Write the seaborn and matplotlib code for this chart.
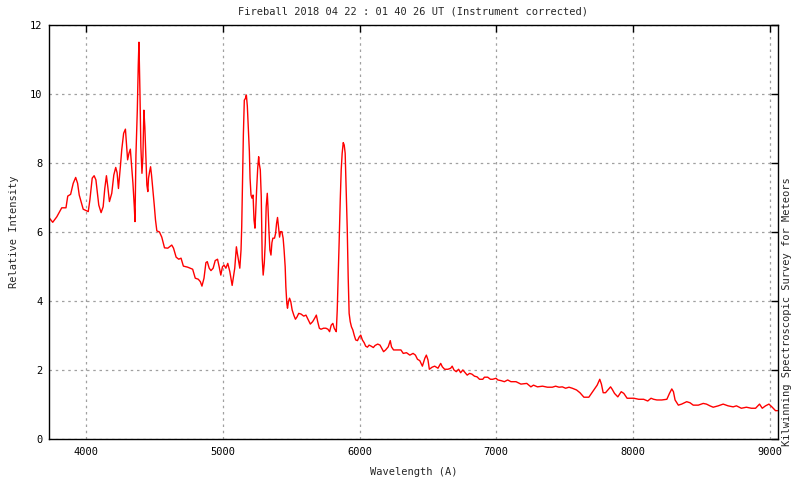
import matplotlib
matplotlib.use("Agg")
import matplotlib.pyplot as plt
import seaborn as sns
import pandas as pd

wavelength = [
    3731, 3755, 3785, 3821, 3852, 3865, 3886, 3905, 3923, 3937, 3949, 3978,
    4015, 4027, 4044, 4058, 4071, 4092, 4109, 4124, 4136, 4148, 4158, 4170,
    4187, 4202, 4216, 4226, 4236, 4250, 4260, 4274, 4287, 4294, 4303, 4313,
    4323, 4333, 4342, 4352, 4357, 4364, 4374, 4381, 4386, 4393, 4400, 4408,
    4415, 4422, 4429, 4437, 4444, 4451, 4456, 4464, 4471, 4478, 4488, 4498,
    4507, 4517, 4536, 4553, 4573, 4597, 4626, 4639, 4658, 4677, 4694, 4711,
    4742, 4779, 4798, 4820, 4835, 4847, 4862, 4876, 4886, 4900, 4913, 4929,
    4944, 4961, 4973, 4985, 4997, 5009, 5022, 5036, 5051, 5068, 5087, 5099,
    5106, 5116, 5124, 5133, 5138, 5143, 5150, 5157, 5165, 5172, 5179, 5186,
    5194, 5199, 5206, 5213, 5221, 5228, 5235, 5240, 5247, 5255, 5262, 5266,
    5274, 5281, 5288, 5295, 5303, 5310, 5317, 5325, 5330, 5337, 5344, 5352,
    5359, 5366, 5378, 5386, 5393, 5400, 5408, 5415, 5422, 5432, 5441, 5448,
    5456, 5461, 5468, 5473, 5480, 5488, 5497, 5507, 5519, 5531, 5543, 5555,
    5572, 5592, 5608, 5623, 5640, 5657, 5672, 5684, 5694, 5706, 5718, 5737,
    5754, 5769, 5781, 5793, 5805, 5815, 5822, 5830, 5837, 5844, 5851, 5859,
    5866, 5873, 5881, 5888, 5895, 5902, 5910, 5917, 5924, 5932, 5941, 5951,
    5961, 5972, 5985, 5997, 6009, 6021, 6034, 6045, 6058, 6070, 6085, 6101,
    6114, 6133, 6150, 6162, 6176, 6191, 6210, 6225, 6234, 6249, 6271, 6290,
    6303, 6320, 6344, 6368, 6392, 6409, 6424, 6441, 6460, 6478, 6489, 6501,
    6511, 6531, 6550, 6574, 6594, 6606, 6623, 6647, 6667, 6678, 6691, 6708,
    6725, 6740, 6756, 6773, 6788, 6805, 6822, 6841, 6860, 6878, 6902, 6914,
    6938, 6958, 6975, 6999, 7012, 7036, 7060, 7084, 7108, 7145, 7181, 7224,
    7254, 7273, 7302, 7339, 7375, 7411, 7435, 7460, 7484, 7508, 7533, 7557,
    7588, 7613, 7642, 7678, 7715, 7739, 7758, 7770, 7783, 7800, 7817, 7837,
    7849, 7866, 7890, 7915, 7934, 7958, 7983, 8007, 8043, 8079, 8109, 8133,
    8152, 8176, 8212, 8249, 8268, 8285, 8297, 8309, 8333, 8357, 8394, 8418,
    8442, 8479, 8515, 8539, 8564, 8588, 8625, 8661, 8697, 8734, 8758, 8794,
    8831, 8867, 8898, 8927, 8947, 8971, 8996, 9020, 9044, 9058,
]

intensity = [
    6.41, 6.29, 6.45, 6.71, 6.71, 7.05, 7.10, 7.42, 7.59, 7.42, 7.08, 6.67,
    6.60, 6.94, 7.57, 7.64, 7.52, 6.79, 6.57, 6.74, 7.27, 7.64, 7.32, 6.89,
    7.13, 7.66, 7.88, 7.73, 7.27, 7.90, 8.39, 8.87, 8.99, 8.58, 8.10, 8.29,
    8.41, 7.90, 7.42, 6.74, 6.31, 8.24, 9.54, 10.85, 11.51, 10.12, 8.48, 7.71,
    8.19, 9.54, 9.06, 8.19, 7.37, 7.18, 7.57, 7.76, 7.90, 7.66, 7.23, 6.79,
    6.36, 6.04, 6.01, 5.86, 5.55, 5.54, 5.63, 5.54, 5.28, 5.22, 5.25, 5.02,
    4.99, 4.93, 4.67, 4.64, 4.57, 4.44, 4.67, 5.12, 5.15, 4.96, 4.89, 4.96,
    5.18, 5.22, 5.00, 4.76, 5.00, 5.05, 4.96, 5.10, 4.86, 4.46, 4.96, 5.58,
    5.39, 5.15, 4.96, 5.49, 6.16, 7.27, 8.82, 9.83, 9.88, 9.98, 9.66, 9.01,
    8.34, 7.57, 7.08, 6.99, 7.08, 6.36, 6.12, 6.55, 7.23, 7.86, 8.19, 8.00,
    7.81, 7.03, 5.25, 4.76, 5.10, 5.68, 6.74, 7.13, 6.74, 6.07, 5.49, 5.34,
    5.70, 5.83, 5.83, 5.97, 6.26, 6.43, 6.12, 5.86, 6.02, 6.02, 5.83, 5.49,
    5.00, 4.42, 3.94, 3.80, 3.99, 4.09, 3.99, 3.75, 3.60, 3.48, 3.55, 3.65,
    3.63, 3.57, 3.60, 3.48, 3.34, 3.41, 3.51, 3.60, 3.41, 3.22, 3.19, 3.22,
    3.22, 3.19, 3.12, 3.31, 3.36, 3.22, 3.17, 3.12, 3.75, 4.71, 5.73, 6.94,
    7.81, 8.29, 8.60, 8.53, 8.29, 7.32, 6.12, 4.71, 3.65, 3.41, 3.26, 3.17,
    3.02, 2.88, 2.86, 2.96, 3.02, 2.88, 2.80, 2.70, 2.67, 2.73, 2.70, 2.66,
    2.72, 2.76, 2.73, 2.64, 2.54, 2.59, 2.68, 2.86, 2.68, 2.59, 2.59, 2.59,
    2.59, 2.49, 2.51, 2.44, 2.49, 2.44, 2.32, 2.28, 2.12, 2.35, 2.44, 2.30,
    2.03, 2.09, 2.12, 2.06, 2.20, 2.10, 2.03, 2.03, 2.06, 2.12, 2.01, 1.96,
    2.03, 1.93, 2.01, 1.93, 1.86, 1.91, 1.89, 1.83, 1.81, 1.74, 1.74, 1.80,
    1.80, 1.74, 1.74, 1.77, 1.72, 1.70, 1.67, 1.72, 1.67, 1.67, 1.60, 1.62,
    1.52, 1.57, 1.52, 1.54, 1.51, 1.51, 1.54, 1.51, 1.52, 1.48, 1.51, 1.48,
    1.43, 1.35, 1.22, 1.22, 1.43, 1.57, 1.74, 1.60, 1.35, 1.35, 1.43, 1.52,
    1.45, 1.33, 1.23, 1.38, 1.33, 1.19, 1.19, 1.19, 1.16, 1.16, 1.11, 1.19,
    1.16, 1.14, 1.14, 1.16, 1.33, 1.46, 1.38, 1.14, 0.99, 1.02, 1.09, 1.06,
    0.99, 0.99, 1.04, 1.02, 0.97, 0.93, 0.97, 1.02, 0.97, 0.94, 0.97, 0.90,
    0.93, 0.90, 0.90, 1.02, 0.90, 0.97, 1.02, 0.93, 0.83, 0.83,
]

x_ticks = [4000, 5000, 6000, 7000, 8000, 9000]
y_ticks = [0, 2, 4, 6, 8, 10, 12]

title = "Fireball 2018 04 22 : 01 40 26 UT (Instrument corrected)"
x_label = "Wavelength (A)"
y_label = "Relative Intensity"
y2_label = "Kilwinning Spectroscopic Survey for Meteors"

sns.set_style("white")
plt.rcParams["font.family"] = ["DejaVu Sans Mono"]
FS = 7.5

df = pd.DataFrame({"wavelength": wavelength, "intensity": intensity})

fig = plt.figure(figsize=(8, 4.8), dpi=100)
ax = fig.add_axes([49.3 / 800, 1 - 439.3 / 480, (777.7 - 49.3) / 800, (439.3 - 25.3) / 480])

sns.lineplot(data=df, x="wavelength", y="intensity", color="#ff0000",
             linewidth=1.0, estimator=None, sort=False, ax=ax)

ax.set_xlim(3730, 9060)
ax.set_ylim(0, 12)
ax.set_xticks(x_ticks)
ax.set_yticks(y_ticks)
ax.set_xticklabels([str(t) for t in x_ticks], fontsize=FS)
ax.set_yticklabels([str(t) for t in y_ticks], fontsize=FS)
ax.set_xlabel("")
ax.set_ylabel("")

ax.grid(True, color="#a0a0a0", linestyle=(0, (2, 3)), linewidth=0.9)
ax.tick_params(direction="in", length=5, width=1, top=True, right=True,
               colors="black")
ax.tick_params(axis="x", pad=5.5)
ax.tick_params(axis="y", pad=5)
for s in ax.spines.values():
    s.set_visible(True)
    s.set_color("black")
    s.set_linewidth(1)

fig.text(413.5 / 800, 1 - 12 / 480, title, ha="center", va="center", fontsize=FS)
fig.text(413.5 / 800, 1 - 472 / 480, x_label, ha="center", va="center", fontsize=FS)
fig.text(14 / 800, 1 - 232 / 480, y_label, ha="center", va="center",
         rotation=90, fontsize=FS)
fig.text(787 / 800, 1 - 312 / 480, y2_label, ha="center", va="center",
         rotation=90, fontsize=FS)

fig.savefig("out.png", dpi=100)
